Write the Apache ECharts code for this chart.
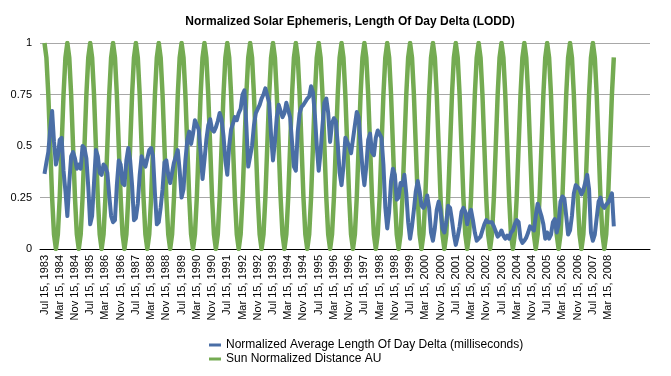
<!DOCTYPE html>
<html>
<head>
<meta charset="utf-8">
<script src="https://cdn.jsdelivr.net/npm/echarts@6/dist/echarts.min.js"></script>
<style>
html,body{margin:0;padding:0;background:#fff;}
#chart{width:671px;height:376px;}
</style>
</head>
<body>
<div id="chart"></div>
<script>
// Monthly samples on the 15th, Jul 1983 .. Jun 2008
const startYear = 1983;
const startMonth = 6; // July (0-based)
const monthNames = ['Jan','Feb','Mar','Apr','May','Jun','Jul','Aug','Sep','Oct','Nov','Dec'];
const seriesNames = ['Normalized Average Length Of Day Delta (milliseconds)', 'Sun Normalized Distance AU'];
const yTicks = [0, 0.25, 0.5, 0.75, 1];
const labelEvery = 8;

const lodd = [
0.365,0.42,0.47,0.58,0.67,0.52,0.41,0.45,0.53,0.54,0.38,0.28,
0.16,0.32,0.45,0.47,0.44,0.39,0.41,0.39,0.50,0.49,0.44,0.30,
0.12,0.16,0.32,0.48,0.45,0.37,0.36,0.41,0.40,0.37,0.26,0.16,
0.13,0.14,0.31,0.43,0.41,0.32,0.31,0.43,0.49,0.43,0.31,0.14,
0.15,0.22,0.36,0.45,0.45,0.40,0.44,0.48,0.49,0.45,0.27,0.12,
0.13,0.20,0.29,0.42,0.43,0.36,0.32,0.37,0.42,0.45,0.48,0.38,
0.25,0.29,0.43,0.53,0.57,0.51,0.56,0.625,0.63,0.58,0.47,0.34,
0.43,0.53,0.60,0.63,0.58,0.57,0.59,0.62,0.66,0.63,0.55,0.43,
0.36,0.50,0.58,0.61,0.64,0.625,0.66,0.68,0.75,0.77,0.60,0.40,
0.45,0.50,0.60,0.66,0.68,0.70,0.73,0.75,0.78,0.785,0.71,0.55,
0.43,0.52,0.64,0.70,0.67,0.64,0.66,0.71,0.71,0.64,0.52,0.40,
0.38,0.57,0.66,0.69,0.70,0.715,0.73,0.74,0.79,0.76,0.65,0.50,
0.38,0.47,0.60,0.71,0.73,0.66,0.52,0.61,0.635,0.62,0.51,0.37,
0.31,0.40,0.54,0.52,0.50,0.465,0.465,0.60,0.665,0.64,0.51,0.39,
0.31,0.40,0.53,0.56,0.47,0.455,0.54,0.575,0.58,0.54,0.41,0.20,
0.10,0.18,0.33,0.39,0.36,0.24,0.25,0.32,0.31,0.36,0.27,0.13,
0.05,0.11,0.19,0.28,0.33,0.28,0.21,0.20,0.22,0.26,0.20,0.08,
0.04,0.10,0.19,0.23,0.19,0.10,0.08,0.13,0.21,0.20,0.14,0.07,
0.02,0.06,0.11,0.18,0.20,0.18,0.12,0.17,0.19,0.14,0.08,0.04,
0.04,0.06,0.09,0.12,0.14,0.13,0.13,0.13,0.11,0.085,0.06,0.07,
0.09,0.065,0.05,0.065,0.05,0.08,0.09,0.12,0.14,0.13,0.05,0.03,
0.04,0.055,0.08,0.11,0.11,0.09,0.16,0.22,0.19,0.16,0.12,0.05,
0.08,0.05,0.07,0.13,0.145,0.08,0.12,0.23,0.255,0.245,0.16,0.07,
0.09,0.16,0.27,0.31,0.30,0.29,0.265,0.285,0.28,0.36,0.29,0.08,
0.04,0.07,0.15,0.23,0.25,0.21,0.20,0.215,0.225,0.245,0.27,0.11
];

const sunDist = [
1,0.93,0.75,0.5,0.25,0.07,0,0.07,0.25,0.5,0.75,0.93,
1,0.93,0.75,0.5,0.25,0.07,0,0.07,0.25,0.5,0.75,0.93,
1,0.93,0.75,0.5,0.25,0.07,0,0.07,0.25,0.5,0.75,0.93,
1,0.93,0.75,0.5,0.25,0.07,0,0.07,0.25,0.5,0.75,0.93,
1,0.93,0.75,0.5,0.25,0.07,0,0.07,0.25,0.5,0.75,0.93,
1,0.93,0.75,0.5,0.25,0.07,0,0.07,0.25,0.5,0.75,0.93,
1,0.93,0.75,0.5,0.25,0.07,0,0.07,0.25,0.5,0.75,0.93,
1,0.93,0.75,0.5,0.25,0.07,0,0.07,0.25,0.5,0.75,0.93,
1,0.93,0.75,0.5,0.25,0.07,0,0.07,0.25,0.5,0.75,0.93,
1,0.93,0.75,0.5,0.25,0.07,0,0.07,0.25,0.5,0.75,0.93,
1,0.93,0.75,0.5,0.25,0.07,0,0.07,0.25,0.5,0.75,0.93,
1,0.93,0.75,0.5,0.25,0.07,0,0.07,0.25,0.5,0.75,0.93,
1,0.93,0.75,0.5,0.25,0.07,0,0.07,0.25,0.5,0.75,0.93,
1,0.93,0.75,0.5,0.25,0.07,0,0.07,0.25,0.5,0.75,0.93,
1,0.93,0.75,0.5,0.25,0.07,0,0.07,0.25,0.5,0.75,0.93,
1,0.93,0.75,0.5,0.25,0.07,0,0.07,0.25,0.5,0.75,0.93,
1,0.93,0.75,0.5,0.25,0.07,0,0.07,0.25,0.5,0.75,0.93,
1,0.93,0.75,0.5,0.25,0.07,0,0.07,0.25,0.5,0.75,0.93,
1,0.93,0.75,0.5,0.25,0.07,0,0.07,0.25,0.5,0.75,0.93,
1,0.93,0.75,0.5,0.25,0.07,0,0.07,0.25,0.5,0.75,0.93,
1,0.93,0.75,0.5,0.25,0.07,0,0.07,0.25,0.5,0.75,0.93,
1,0.93,0.75,0.5,0.25,0.07,0,0.07,0.25,0.5,0.75,0.93,
1,0.93,0.75,0.5,0.25,0.07,0,0.07,0.25,0.5,0.75,0.93,
1,0.93,0.75,0.5,0.25,0.07,0,0.07,0.25,0.5,0.75,0.93,
1,0.93,0.75,0.5,0.25,0.07,0,0.07,0.25,0.5,0.75,0.93
];

// category labels (one per monthly sample)
const categories = lodd.map((_, i) => {
  const m = startMonth + i;
  return monthNames[m % 12] + ' 15, ' + (startYear + Math.floor(m / 12));
});
const labelIndices = categories.map((_, i) => i).filter(i => i % labelEvery === 0);

const FONT = '"Liberation Sans", Arial, Helvetica, sans-serif';
const chart = echarts.init(document.getElementById('chart'), null, {renderer: 'canvas'});
chart.setOption({
  animation: false,
  backgroundColor: '#fff',
  textStyle: {fontFamily: FONT},
  title: {
    text: 'Normalized Solar Ephemeris, Length Of Day Delta (LODD)',
    left: 345, top: 11, textAlign: 'center',
    textStyle: {fontSize: 12, fontWeight: 'bold', color: '#000', fontFamily: FONT}
  },
  legend: {
    orient: 'vertical', left: 204, top: 334,
    itemWidth: 12, itemHeight: 3, itemGap: 2, icon: 'rect',
    data: seriesNames,
    textStyle: {fontSize: 12, color: '#000', fontFamily: FONT}
  },
  grid: {left: 40, right: 21, top: 43, bottom: 127, containLabel: false},
  xAxis: {
    type: 'value', min: -2.36, max: 318,
    axisLine: {show: true, lineStyle: {color: '#000', width: 1}},
    axisTick: {show: false},
    splitLine: {show: false},
    axisLabel: {
      customValues: labelIndices,
      rotate: 90, fontSize: 11, color: '#000', margin: 6, fontFamily: FONT,
      formatter: v => categories[Math.round(v)] || ''
    }
  },
  yAxis: {
    type: 'value', min: yTicks[0], max: yTicks[yTicks.length - 1], interval: 0.25,
    axisLine: {show: false}, axisTick: {show: false},
    splitLine: {show: true, lineStyle: {color: '#a8a8a8', width: 1}},
    axisLabel: {fontSize: 11, color: '#000', margin: 8, fontFamily: FONT}
  },
  series: [
    {
      name: seriesNames[0], type: 'line', z: 3,
      data: lodd.map((v, i) => [i, v]),
      showSymbol: false, symbol: 'none',
      lineStyle: {color: '#4a6ea6', width: 4, join: 'round'},
      itemStyle: {color: '#4a6ea6'}
    },
    {
      name: seriesNames[1], type: 'line', z: 2,
      data: sunDist.map((v, i) => [i, v]),
      showSymbol: false, symbol: 'none',
      lineStyle: {color: '#74ab52', width: 4.5, join: 'round'},
      itemStyle: {color: '#74ab52'}
    }
  ]
});
</script>
</body>
</html>
